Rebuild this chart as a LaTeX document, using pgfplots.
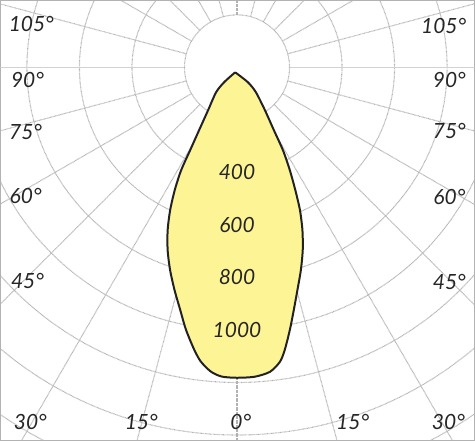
\documentclass[border=0pt]{standalone}
\usepackage{pgfplots}
\pgfplotsset{compat=1.18}
\usepackage{pgfplotstable}
\usepackage{fontspec}
\setmainfont{Lato}
\definecolor{lampfill}{RGB}{253,244,150}
\definecolor{lampline}{RGB}{34,34,34}

% light distribution, angle from nadir (deg), intensity (cd)
\pgfplotstableread{
ang cd
-20 20
36.3 71
37.2 119
33.1 195
30.4 278
29.0 361
27.2 440
25.4 518
23.8 594
21.9 668
19.8 739
17.5 809
15.2 878
13.2 948
11.4 1019
9.6 1091
8.3 1133
6.2 1166
3.3 1180
0 1182
-2.8 1179
-4.9 1163
-7.0 1129
-8.6 1088
-11.0 1018
-13.2 948
-15.7 880
-18.3 812
-20.8 744
-23.1 673
-25.1 600
-26.9 524
-28.5 446
-29.5 362
-31.1 280
-34.0 197
-40.0 124
-40.9 75
-20 20
}\curve

\tikzset{
  polgrid/.style={gray!60, line width=1.1pt, dash pattern=on 0.7pt off 0.6pt},
  lbl/.style={font=\fontsize{21}{21}\selectfont\itshape, text=black!85, inner sep=0pt},
}

\begin{document}
\begin{tikzpicture}
\begin{axis}[
    scale only axis,
    width=475pt, height=441pt,
    xmin=-900.6, xmax=904.4,
    ymin=-1421.2, ymax=254.6,
    ticks=none,
    axis line style={gray!60, line width=1pt},
]
% concentric circles
\pgfplotsinvokeforeach{200,400,600,800,1000,1200,1400,1600,1800}{
  \draw[polgrid] (axis cs:0,0) circle [radius=#1];
}
% radial lines
\pgfplotsinvokeforeach{0,15,30,45,60,75,105,120,135,150,165,180,195,210,225,240,255,285,300,315,330,345}{
  \draw[polgrid] (axis cs:{200*sin(#1)},{-200*cos(#1)}) -- (axis cs:{2200*sin(#1)},{-2200*cos(#1)});
}
\draw[gray!35, line width=1.3pt] (axis cs:200,0) -- (axis cs:1000,0);
\draw[gray!35, line width=1.3pt] (axis cs:-200,0) -- (axis cs:-1000,0);

\addplot[fill=lampfill, draw=lampline, line width=2pt, smooth, tension=0.45, line join=round]
  table[x expr={\thisrow{cd}*sin(\thisrow{ang})}, y expr={-\thisrow{cd}*cos(\thisrow{ang})}] {\curve};

\node[lbl] at (axis cs:0,-400) {400};
\node[lbl] at (axis cs:0,-600) {600};
\node[lbl] at (axis cs:0,-800) {800};
\node[lbl] at (axis cs:0,-1000) {1000};

% angle labels at the frame
\node[lbl] at (rel axis cs:0.065,0.946) {105°};
\node[lbl] at (rel axis cs:0.057,0.819) {90°};
\node[lbl] at (rel axis cs:0.053,0.701) {75°};
\node[lbl] at (rel axis cs:0.053,0.556) {60°};
\node[lbl] at (rel axis cs:0.057,0.363) {45°};
\node[lbl] at (rel axis cs:0.063,0.043) {30°};
\node[lbl] at (rel axis cs:0.297,0.043) {15°};
\node[lbl] at (rel axis cs:0.507,0.043) {0°};
\node[lbl] at (rel axis cs:0.743,0.043) {15°};
\node[lbl] at (rel axis cs:0.945,0.043) {30°};
\node[lbl] at (rel axis cs:0.947,0.361) {45°};
\node[lbl] at (rel axis cs:0.947,0.553) {60°};
\node[lbl] at (rel axis cs:0.947,0.703) {75°};
\node[lbl] at (rel axis cs:0.947,0.819) {90°};
\node[lbl] at (rel axis cs:0.935,0.943) {105°};
\end{axis}
\end{tikzpicture}
\end{document}
